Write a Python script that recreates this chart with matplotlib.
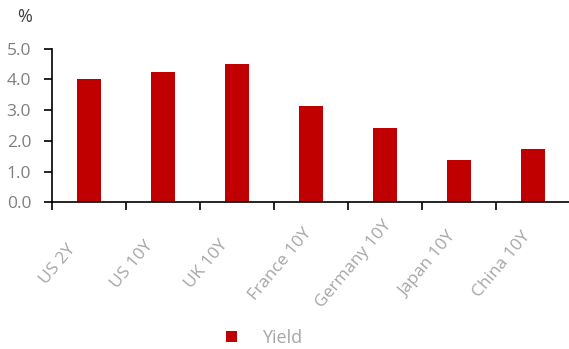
import matplotlib
matplotlib.use("Agg")
import matplotlib.pyplot as plt
import matplotlib.transforms as mtransforms
import numpy as np

plt.rcParams['font.family'] = ['Open Sans', 'DejaVu Sans']

# data
categories = ["US 2Y", "US 10Y", "UK 10Y", "France 10Y", "Germany 10Y", "Japan 10Y", "China 10Y"]
yields = [4.00, 4.24, 4.50, 3.13, 2.42, 1.38, 1.72]
y_ticks = [0.0, 1.0, 2.0, 3.0, 4.0, 5.0]

bar_color = "#C00000"

fig = plt.figure(figsize=(5.69, 3.49), dpi=100)
ax = fig.add_axes([0.0914, 0.4203, 0.9104, 0.4401])

x = np.arange(len(categories))
bars = ax.bar(x, yields, width=0.315, color=bar_color, label="Yield", zorder=2)

ax.set_xlim(-0.5, len(categories) - 0.5)
ax.set_ylim(0, 5)

# y axis
ax.set_yticks(y_ticks)
ax.set_yticklabels([f"{v:.1f}" for v in y_ticks])
ax.tick_params(axis='y', direction='out', length=6, width=1.2, pad=9,
               labelsize=12.5, labelcolor="#7F7F7F", color='black')

# x axis: ticks on category boundaries, category names placed at centres
ax.set_xticks(np.arange(-0.5, len(categories), 1.0))
ax.set_xticklabels([])
ax.tick_params(axis='x', which='major', direction='out', length=6, width=1.2, color='black')

offset = mtransforms.ScaledTranslation(-31 / 100, -62 / 100, fig.dpi_scale_trans)
trans = ax.get_xaxis_transform() + offset
for xi, name in zip(x, categories):
    ax.text(xi, 0, name, transform=trans, rotation=50, rotation_mode='anchor',
            ha='center', va='center', fontsize=12.5, color="#A6A6A6")

for side in ['top', 'right']:
    ax.spines[side].set_visible(False)
for side in ['left', 'bottom']:
    ax.spines[side].set_linewidth(1.2)
    ax.spines[side].set_color('black')

fig.text(17 / 569, 1 - 17 / 349, "%", fontsize=13, color="#404040", va='center', ha='left')

fig.legend(handles=[bars], labels=["Yield"], loc='center',
           bbox_to_anchor=(264 / 569, 1 - 338 / 349), frameon=False,
           fontsize=13, labelcolor="#A6A6A6", handlelength=0.6, handleheight=0.6,
           handletextpad=1.4)

fig.savefig("out.png", dpi=100)
